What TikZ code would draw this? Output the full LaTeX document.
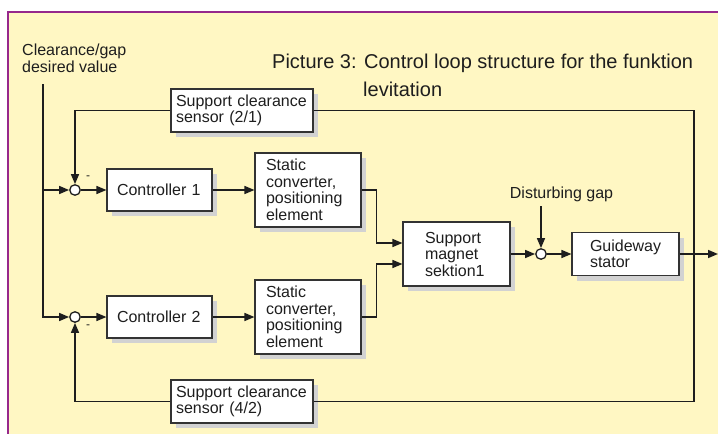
\documentclass[tikz,border=0pt]{standalone}
\usepackage{fontspec}
\setmainfont{Liberation Sans}
\usetikzlibrary{arrows.meta,shadows,calc}
\definecolor{bgyellow}{RGB}{255,247,195}
\definecolor{framepurple}{RGB}{150,40,140}
\definecolor{boxline}{RGB}{51,51,51}
\definecolor{shadowgray}{RGB}{210,210,210}
\definecolor{inkc}{RGB}{30,30,30}
\begin{document}
\begin{tikzpicture}[x=1pt,y=-1pt,
  every node/.style={font=\fontsize{16}{16.5}\selectfont, text=inkc},
  block/.style={draw=boxline, line width=1.1pt, fill=white, align=left, inner ysep=2pt,
    drop shadow={shadow xshift=5pt, shadow yshift=-5pt, fill=shadowgray, opacity=1}},
  sumpt/.style={circle, draw=inkc, line width=1.3pt, fill=white, minimum size=10.5pt, inner sep=0pt},
  conn/.style={line width=1.5pt, draw=inkc},
  arr/.style={conn, -{Triangle[length=10pt,width=8pt]}},
  txt/.style={inner sep=0pt, align=left}
]
\useasboundingbox (0,0) rectangle (718,434);
\fill[white] (0,0) rectangle (718,434);
\fill[bgyellow] (8,11) rectangle (718,434);
\draw[framepurple, line width=2pt] (8,434) -- (8,11.5) -- (718,11.5);

% texts
\node[txt, anchor=base west, font=\fontsize{20}{24}\selectfont] (title1) at (272,68) {Picture 3: Control loop structure for the funktion};
\node[txt, anchor=base west, font=\fontsize{20}{24}\selectfont] (title2) at (363,96) {levitation};
\node[txt, anchor=west] (setp) at (22,58.5) {Clearance/gap\\desired value};
\node[txt] (dist) at (561.5,194) {Disturbing gap};

% blocks
\node[block, text width=132pt, inner xsep=5pt, minimum height=43pt] (sens1) at (242,110.5) {Support clearance\\sensor (2/1)};
\node[block, text width=85pt, inner xsep=10pt, minimum height=42pt] (ctrl1) at (159.5,190) {Controller 1};
\node[block, text width=84pt, inner xsep=11pt, minimum height=74pt] (conv1) at (308,190) {Static\\converter,\\positioning\\element};
\node[block, text width=85pt, inner xsep=10pt, minimum height=42pt] (ctrl2) at (159.5,317) {Controller 2};
\node[block, text width=84pt, inner xsep=11pt, minimum height=74pt] (conv2) at (308,317) {Static\\converter,\\positioning\\element};
\node[block, text width=63pt, inner xsep=22pt, minimum height=64pt] (magnet) at (456.5,254) {Support\\magnet\\sektion1};
\node[block, text width=71pt, inner xsep=18pt, minimum height=43pt] (stator) at (625.5,254) {Guideway\\stator};
\node[block, text width=132pt, inner xsep=5pt, minimum height=43pt] (sens2) at (242,401.5) {Support clearance\\sensor (4/2)};

% summing points
\node[sumpt] (sum1) at (75,190) {};
\node[sumpt] (sum2) at (75,317) {};
\node[sumpt] (sum3) at (541,254) {};
\node[txt, font=\fontsize{12}{12}\selectfont] (minus1) at (88,178) {-};
\node[txt, font=\fontsize{12}{12}\selectfont] (minus2) at (88,327) {-};

% free ends
\coordinate (in) at (43,84);
\coordinate (dtop) at (541,206);
\coordinate (out) at (718,254);
\coordinate (cr1) at (694,110.5);
\coordinate (cr2) at (694,401.5);

% connectors
\draw[arr] (in) |- (sum2.west);
\draw[arr] (in |- sum1) -- (sum1.west);
\draw[arr] (sens1.west) -| (sum1.north);
\draw[arr] (sens2.west) -| (sum2.south);
\draw[arr] (sum1.east) -- (ctrl1.west);
\draw[arr] (ctrl1.east) -- (conv1.west);
\draw[arr] (sum2.east) -- (ctrl2.west);
\draw[arr] (ctrl2.east) -- (conv2.west);
\draw[arr] (conv1.east) -- ++(15,0) |- ([yshift=11pt]magnet.west);
\draw[arr] (conv2.east) -- ++(15,0) |- ([yshift=-10pt]magnet.west);
\draw[arr] (magnet.east) -- (sum3.west);
\draw[arr] (dtop) -- (sum3.north);
\draw[arr] (sum3.east) -- (stator.west);
\draw[arr] (stator.east) -- (out);
\draw[conn] (sens1.east) -- (cr1) -- (cr2) -- (sens2.east);
\end{tikzpicture}
\end{document}
